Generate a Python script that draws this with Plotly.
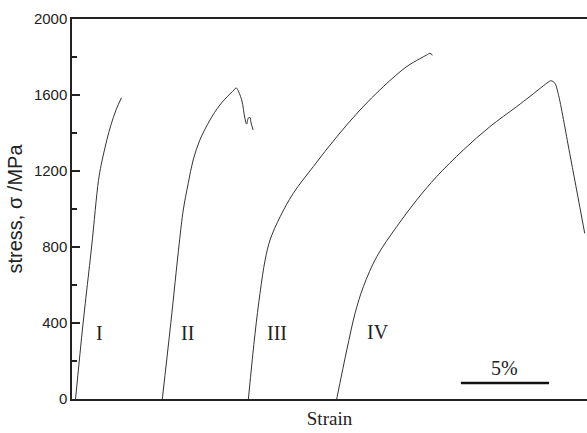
import plotly.graph_objects as go

# Tensile stress-strain curves of four specimens (strain in %, stress in MPa)
labels = ["I", "II", "III", "IV"]
# horizontal offsets (%) used to separate the curves along the strain axis
offsets = [0.0, 4.92, 9.80, 14.81]

strain_I = [0.0, 0.43, 0.91, 1.30, 1.45, 1.60, 1.78, 2.0, 2.3, 2.6]
stress_I = [0, 400, 800, 1150, 1230, 1295, 1365, 1440, 1522, 1585]

strain_II = [0.0, 0.48, 0.96, 1.19, 1.47, 1.75, 2.13, 2.70, 3.26, 3.83, 4.10, 4.18,
             4.24, 4.50, 4.68, 4.78, 4.88, 4.97, 5.02, 5.15]
stress_II = [0, 398, 819, 995, 1135, 1258, 1363, 1468, 1547, 1605, 1630, 1638,
             1633, 1574, 1479, 1447, 1479, 1482, 1458, 1416]

strain_III = [0.0, 0.38, 0.66, 0.95, 1.23, 1.80, 2.55, 3.68, 5.01, 6.33, 7.65, 8.97,
              9.7, 10.1, 10.29, 10.44]
stress_III = [0, 346, 556, 732, 837, 959, 1083, 1223, 1380, 1521, 1644, 1749,
              1790, 1810, 1819, 1810]

strain_IV = [0.0, 0.57, 1.04, 1.51, 2.27, 3.40, 4.53, 5.66, 7.17, 8.68, 10.19, 10.95,
             11.70, 11.98, 12.15, 12.36, 12.55, 13.21, 14.06]
stress_IV = [0, 258, 451, 591, 749, 907, 1047, 1170, 1310, 1433, 1538, 1592,
             1647, 1667, 1675, 1663, 1609, 1293, 872]

# curve label positions (strain %, stress MPa)
label_x = [1.35, 6.34, 11.44, 17.17]
label_y = [347, 347, 347, 355]

# 5 % strain scale bar
bar_start = 21.85
bar_length = 5.0
bar_stress = 84

curves = [(strain_I, stress_I), (strain_II, stress_II),
          (strain_III, stress_III), (strain_IV, stress_IV)]

fig = go.Figure()
for (eps, sig), off in zip(curves, offsets):
    fig.add_trace(go.Scatter(
        x=[e + off for e in eps], y=sig, mode="lines",
        line=dict(color="#333333", width=1, shape="spline", smoothing=1.0),
        showlegend=False, hoverinfo="skip"))

for name, lx, ly in zip(labels, label_x, label_y):
    fig.add_annotation(x=lx, y=ly, text=name, showarrow=False,
                       font=dict(family="Liberation Serif", size=20, color="#222"))

fig.add_shape(type="line", x0=bar_start, x1=bar_start + bar_length,
              y0=bar_stress, y1=bar_stress, line=dict(color="#111", width=2.5))
fig.add_annotation(x=bar_start + bar_length / 2, y=bar_stress, yshift=15,
                   text="5%", showarrow=False,
                   font=dict(family="Liberation Serif", size=20, color="#222"))

fig.update_layout(
    width=587, height=433,
    margin=dict(l=72, r=0, t=19, b=34),
    paper_bgcolor="white", plot_bgcolor="white",
    xaxis=dict(range=[-0.2, 29.0], showgrid=False, zeroline=False,
               showticklabels=False, ticks="", showline=True, mirror=True,
               linecolor="#222", linewidth=1.5,
               title=dict(text="Strain", standoff=12,
                          font=dict(family="Liberation Serif", size=19, color="#222"))),
    yaxis=dict(range=[0, 2000], showgrid=False, zeroline=False,
               tickmode="linear", tick0=0, dtick=400,
               ticks="inside", ticklen=8, tickwidth=1.5, tickcolor="#222",
               minor=dict(ticks="inside", ticklen=5, dtick=200, tickwidth=1.5,
                          tickcolor="#222", showgrid=False),
               showline=True, linecolor="#222", linewidth=1.5,
               tickfont=dict(family="Liberation Sans", size=15, color="#222"),
               title=dict(text="stress, σ /MPa", standoff=6,
                          font=dict(family="Liberation Sans", size=20, color="#222"))),
)

fig.write_html("out.html")
